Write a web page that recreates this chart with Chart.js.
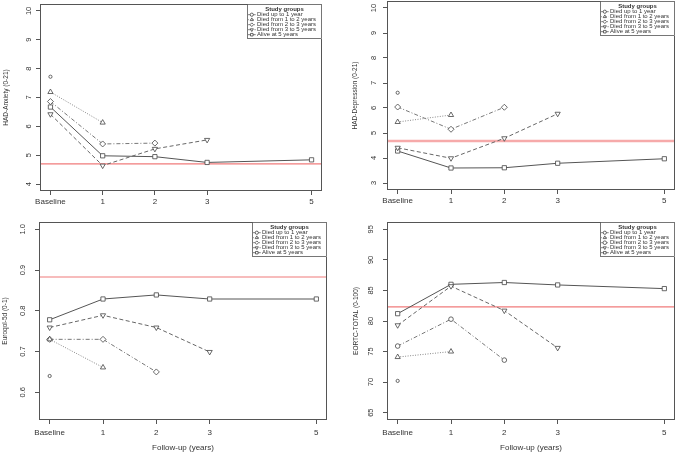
<!DOCTYPE html>
<html>
<head>
<meta charset="utf-8">
<script src="https://cdn.jsdelivr.net/npm/chart.js@4.4.1/dist/chart.umd.min.js"></script>
<style>
  body { margin: 0; background: #fff; width: 676px; height: 453px; position: relative; overflow: hidden; }
  canvas { position: absolute; }
</style>
</head>
<body>
<canvas id="anxiety" width="338" height="213" style="left:0;top:0"></canvas>
<canvas id="depression" width="338" height="213" style="left:338px;top:0"></canvas>
<canvas id="euroqol" width="338" height="240" style="left:0;top:213px"></canvas>
<canvas id="eortc" width="338" height="240" style="left:338px;top:213px"></canvas>
<script>
// x positions (years) and their labels
var followUp = [0, 1, 2, 3, 5];
var xTickLabels = ['Baseline', '1', '2', '3', '5'];
var groupNames = ['Died up to 1 year', 'Died from 1 to 2 years', 'Died from 2 to 3 years',
                  'Died from 3 to 5 years', 'Alive at 5 years'];

// HAD-Anxiety
var anxUpTo1 = [7.72];
var anx1to2 = [7.19, 6.13];
var anx2to3 = [6.86, 5.39, 5.42];
var anx3to5 = [6.42, 4.64, 5.22, 5.53];
var anxAlive = [6.67, 4.98, 4.95, 4.75, 4.84];
var anxReference = 4.7;
var anxTicks = [4, 5, 6, 7, 8, 9, 10];

// HAD-Depression
var depUpTo1 = [6.61];
var dep1to2 = [5.44, 5.72];
var dep2to3 = [6.04, 5.15, 6.03];
var dep3to5 = [4.41, 3.99, 4.79, 5.77];
var depAlive = [4.28, 3.60, 3.61, 3.79, 3.97];
var depReference = 4.68;
var depTicks = [3, 4, 5, 6, 7, 8, 9, 10];

// Euroqol-5d
var eqUpTo1 = [0.640];
var eq1to2 = [0.730, 0.661];
var eq2to3 = [0.730, 0.730, 0.650];
var eq3to5 = [0.759, 0.789, 0.759, 0.699];
var eqAlive = [0.778, 0.829, 0.839, 0.829, 0.829];
var eqReference = 0.883;
var eqTicks = [0.6, 0.7, 0.8, 0.9, 1.0];

// EORTC-TOTAL
var eoUpTo1 = [70.2];
var eo1to2 = [74.1, 75.0];
var eo2to3 = [75.9, 80.3, 73.6];
var eo3to5 = [79.3, 85.7, 81.7, 75.6];
var eoAlive = [81.2, 86.0, 86.3, 85.9, 85.3];
var eoReference = 82.3;
var eoTicks = [65, 70, 75, 80, 85, 90, 95];

var FONT = '"Liberation Sans", Arial, Helvetica, sans-serif';
var AXIS = '#555';

// line / marker look of each group (R lty + pch)
var groupStyles = [
    {dash: [3, 2], point: 'circle', radius: 1.6, color: '#666'},
    {dash: [1, 1.5], point: 'triangle', radius: 3, color: '#888'},
    {dash: [4, 2, 1, 2], point: 'rectRot', radius: 3, color: '#777'},
    {dash: [4, 2.5], point: 'triangle', radius: 3, rotation: 180, color: '#666'},
    {dash: [], point: 'rect', radius: 3, color: '#555'}
];

// box around the plot region + legend in the top right corner
var framePlugin = {
    id: 'frame',
    afterDraw: function(chart) {
        var ctx = chart.ctx, a = chart.chartArea;
        ctx.save();
        ctx.strokeStyle = AXIS;
        ctx.lineWidth = 1;
        ctx.strokeRect(a.left + 0.5, a.top + 0.5, a.right - a.left - 1, a.bottom - a.top - 1);

        var w = 75, h = 35, left = a.right - w, top = a.top;
        ctx.fillStyle = '#fff';
        ctx.fillRect(left, top, w, h);
        ctx.lineWidth = 0.8;
        ctx.strokeRect(left + 0.5, top + 0.5, w - 1, h - 1);
        ctx.fillStyle = '#333';
        ctx.textBaseline = 'middle';
        ctx.textAlign = 'center';
        ctx.font = 'bold 6px ' + FONT;
        ctx.fillText('Study groups', left + w / 2, top + 5.3);
        ctx.textAlign = 'left';
        ctx.font = '6px ' + FONT;
        chart.data.datasets.slice(0, groupNames.length).forEach(function(ds, i) {
            var y = top + 10.7 + i * 5;
            ctx.strokeStyle = ds.borderColor;
            ctx.lineWidth = 0.8;
            ctx.setLineDash(ds.borderDash);
            ctx.beginPath();
            ctx.moveTo(left + 1, y);
            ctx.lineTo(left + 8.7, y);
            ctx.stroke();
            ctx.setLineDash([]);
            ctx.fillStyle = '#fff';
            ctx.strokeStyle = '#444';
            Chart.helpers.drawPoint(ctx, {
                pointStyle: ds.pointStyle,
                rotation: ds.pointRotation || 0,
                radius: Math.min(ds.pointRadius, 1.8),
                borderWidth: 0.7
            }, left + 4.8, y);
            ctx.fillStyle = '#333';
            ctx.fillText(ds.label, left + 10, y);
        });
        ctx.restore();
    }
};

function makePanel(id, p) {
    var datasets = p.series.map(function(values, i) {
        var st = groupStyles[i];
        return {
            label: groupNames[i],
            data: values.map(function(v, j) { return {x: followUp[j], y: v}; }),
            borderColor: st.color,
            borderWidth: 1,
            borderDash: st.dash,
            pointStyle: (i == 2 && p.circles) ? 'circle' : st.point,
            pointRadius: (i == 2 && p.circles) ? 2.3 : st.radius,
            pointRotation: st.rotation || 0,
            pointBorderColor: '#444',
            pointBorderWidth: 0.8,
            pointBackgroundColor: '#fff',
            tension: 0
        };
    });
    // reference level (red line across the plot)
    datasets.push({
        label: 'reference',
        data: [{x: -0.2, y: p.reference}, {x: 5.2, y: p.reference}],
        borderColor: p.refColor,
        borderWidth: p.refWidth,
        pointRadius: 0
    });

    return new Chart(document.getElementById(id), {
        type: 'line',
        data: {datasets: datasets},
        options: {
            responsive: false,
            animation: false,
            layout: {
                autoPadding: false,
                padding: {left: 0, top: p.padTop, right: p.padRight, bottom: 0}
            },
            plugins: {legend: {display: false}, tooltip: {enabled: false}},
            scales: {
                x: {
                    type: 'linear',
                    min: -0.2,
                    max: 5.2,
                    afterBuildTicks: function(scale) {
                        scale.ticks = followUp.map(function(v) { return {value: v}; });
                    },
                    afterFit: function(scale) {
                        scale.height = p.xHeight;
                        scale.paddingLeft = 0;
                        scale.paddingRight = 0;
                    },
                    ticks: {
                        autoSkip: false,
                        maxRotation: 0,
                        padding: p.xPad,
                        color: '#333',
                        font: {family: FONT, size: 8},
                        callback: function(value, index) { return xTickLabels[index]; }
                    },
                    grid: {display: true, drawOnChartArea: false, drawTicks: true, tickLength: 4, color: AXIS},
                    border: {display: false},
                    title: {
                        display: p.xTitle,
                        text: 'Follow-up (years)',
                        color: '#333',
                        font: {family: FONT, size: 8},
                        padding: {top: 0, bottom: 0.5}
                    }
                },
                y: {
                    min: p.yMin,
                    max: p.yMax,
                    afterBuildTicks: function(scale) {
                        scale.ticks = p.ticks.map(function(v) { return {value: v}; });
                    },
                    afterFit: function(scale) {
                        scale.width = p.yWidth;
                        scale.paddingTop = 0;
                        scale.paddingBottom = 0;
                    },
                    ticks: {
                        minRotation: 90,
                        maxRotation: 90,
                        crossAlign: 'center',
                        padding: p.yPad,
                        color: '#333',
                        font: {family: FONT, size: 7.5},
                        callback: function(value) { return p.tickFormat ? value.toFixed(1) : value; }
                    },
                    grid: {display: true, drawOnChartArea: false, drawTicks: true, tickLength: 4, color: AXIS},
                    border: {display: false},
                    title: {
                        display: true,
                        text: p.yTitle,
                        color: '#333',
                        font: {family: FONT, size: 6.5},
                        padding: {top: p.titlePad, bottom: 0}
                    }
                }
            }
        },
        plugins: [framePlugin]
    });
}

makePanel('anxiety', {
    series: [anxUpTo1, anx1to2, anx2to3, anx3to5, anxAlive],
    reference: anxReference, refColor: '#f07b7b', refWidth: 1.2,
    ticks: anxTicks, yMin: 3.76, yMax: 10.24, yTitle: 'HAD-Anxiety (0-21)',
    yWidth: 40, padTop: 4, padRight: 16, xHeight: 22, xPad: 1.5, yPad: 2.5, titlePad: 2,
    xTitle: false
});
makePanel('depression', {
    series: [depUpTo1, dep1to2, dep2to3, dep3to5, depAlive],
    reference: depReference, refColor: '#f6aaaa', refWidth: 2.5,
    ticks: depTicks, yMin: 2.72, yMax: 10.28, yTitle: 'HAD-Depression (0-21)',
    yWidth: 49, padTop: 1, padRight: 1, xHeight: 23, xPad: 1.5, yPad: 5, titlePad: 13,
    xTitle: false
});
makePanel('euroqol', {
    series: [eqUpTo1, eq1to2, eq2to3, eq3to5, eqAlive],
    reference: eqReference, refColor: '#f07b7b', refWidth: 1.2,
    ticks: eqTicks, yMin: 0.532, yMax: 1.018, yTitle: 'Euroqol-5d (0-1)', tickFormat: true,
    yWidth: 39, padTop: 9, padRight: 11, xHeight: 33, xPad: 4, yPad: 6.5, titlePad: 1,
    xTitle: true
});
makePanel('eortc', {
    series: [eoUpTo1, eo1to2, eo2to3, eo3to5, eoAlive],
    reference: eoReference, refColor: '#f07b7b', refWidth: 1.2, circles: true,
    ticks: eoTicks, yMin: 63.8, yMax: 96.2, yTitle: 'EORTC-TOTAL (0-100)',
    yWidth: 49, padTop: 9, padRight: 1, xHeight: 33, xPad: 4, yPad: 7.8, titlePad: 14,
    xTitle: true
});
</script>
</body>
</html>
